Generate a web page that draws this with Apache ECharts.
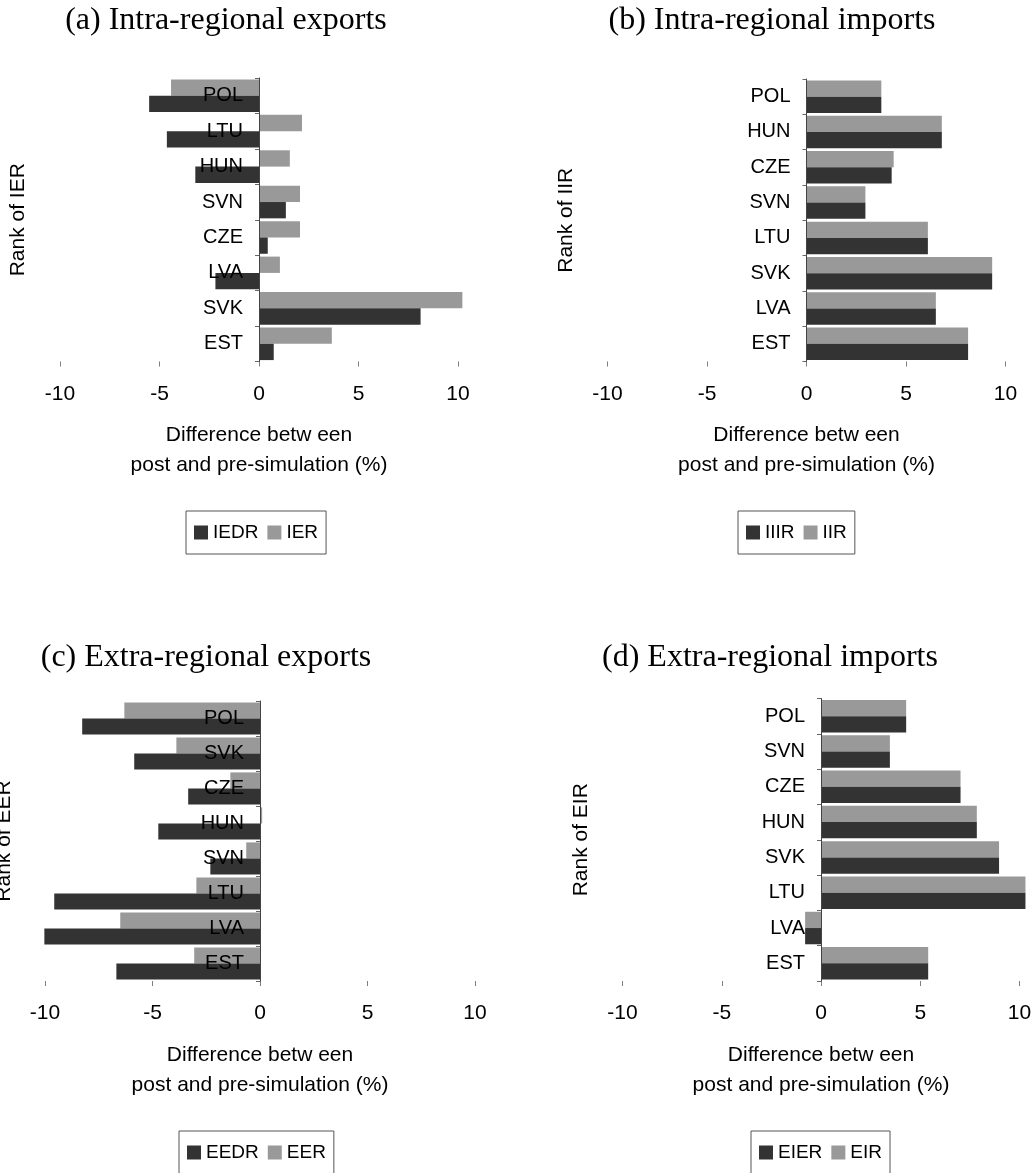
<!DOCTYPE html>
<html>
<head>
<meta charset="utf-8">
<script src="https://cdn.jsdelivr.net/npm/echarts@6/dist/echarts.min.js"></script>
<style>
  html, body { margin: 0; padding: 0; background: #fff; }
  #chart { width: 1032px; height: 1173px; }
</style>
</head>
<body>
<div id="chart"></div>
<script>
// Shared value-axis ticks (percent difference)
const xTicks = [-10, -5, 0, 5, 10];

// (a) Intra-regional exports — categories listed bottom to top
const catsA = ['EST', 'SVK', 'LVA', 'CZE', 'SVN', 'HUN', 'LTU', 'POL'];
const iedrA = [0.74, 8.12, -2.19, 0.44, 1.35, -3.2, -4.63, -5.52];
const ierA  = [3.66, 10.22, 1.05, 2.06, 2.06, 1.55, 2.16, -4.42];

// (b) Intra-regional imports
const catsB = ['EST', 'LVA', 'SVK', 'LTU', 'SVN', 'CZE', 'HUN', 'POL'];
const iiirB = [8.12, 6.5, 9.33, 6.1, 2.96, 4.28, 6.8, 3.76];
const iirB  = [8.12, 6.5, 9.33, 6.1, 2.96, 4.38, 6.8, 3.76];

// (c) Extra-regional exports
const catsC = ['EST', 'LVA', 'LTU', 'SVN', 'HUN', 'CZE', 'SVK', 'POL'];
const eedrC = [-6.68, -10.03, -9.57, -2.31, -4.73, -3.34, -5.85, -8.27];
const eerC  = [-3.06, -6.5, -2.96, -0.64, 0.1, -1.38, -3.89, -6.31];

// (d) Extra-regional imports
const catsD = ['EST', 'LVA', 'LTU', 'SVK', 'HUN', 'CZE', 'SVN', 'POL'];
const eierD = [5.4, -0.8, 10.3, 8.97, 7.85, 7.03, 3.47, 4.29];
const eirD  = [5.4, -0.8, 10.3, 8.97, 7.85, 7.03, 3.47, 4.29];

const SANS = "'Liberation Sans', Arial, sans-serif";
const SERIF = "'Liberation Serif', 'Times New Roman', serif";
const DARK = '#333333';
const LIGHT = '#999999';

const panels = [
  { title: '(a) Intra-regional exports', titleX: 221, titleY: 0,
    grid: { left: 60, top: 78, width: 398, height: 283.5 },
    yName: 'Rank of IER', yGap: 230,
    cats: catsA, dark: ['IEDR', iedrA], light: ['IER', ierA],
    legend: { left: 186, top: 511 } },
  { title: '(b) Intra-regional imports', titleX: 767, titleY: 0,
    grid: { left: 607.5, top: 79, width: 398, height: 282.5 },
    yName: 'Rank of IIR', yGap: 230,
    cats: catsB, dark: ['IIIR', iiirB], light: ['IIR', iirB],
    legend: { left: 738, top: 511 } },
  { title: '(c) Extra-regional exports', titleX: 201, titleY: 637,
    grid: { left: 45, top: 701, width: 430, height: 280 },
    yName: 'Rank of EER', yGap: 245,
    cats: catsC, dark: ['EEDR', eedrC], light: ['EER', eerC],
    legend: { left: 179, top: 1131 } },
  { title: '(d) Extra-regional imports', titleX: 765, titleY: 637,
    grid: { left: 622.5, top: 698.5, width: 397, height: 282.5 },
    yName: 'Rank of EIR', yGap: 229,
    cats: catsD, dark: ['EIER', eierD], light: ['EIR', eirD],
    legend: { left: 751, top: 1131 } }
];

const option = {
  backgroundColor: '#ffffff',
  animation: false,
  title: [], grid: [], xAxis: [], yAxis: [], legend: [], series: []
};

panels.forEach((p, i) => {
  option.title.push({
    text: p.title, left: p.titleX, top: p.titleY, textAlign: 'center',
    textStyle: { fontFamily: SERIF, fontSize: 32, fontWeight: 'normal', color: '#000' }
  });
  option.grid.push(Object.assign({ outerBoundsMode: 'none', containLabel: false }, p.grid));
  option.xAxis.push({
    type: 'value', gridIndex: i,
    min: xTicks[0], max: xTicks[xTicks.length - 1], interval: xTicks[1] - xTicks[0],
    axisLine: { onZero: false, lineStyle: { color: '#808080', width: 1 } },
    axisTick: { show: true, length: 5, lineStyle: { color: '#808080' } },
    axisLabel: { margin: 22, fontFamily: SANS, fontSize: 21, color: '#000' },
    splitLine: { show: false },
    name: 'Difference betw een\npost and pre-simulation (%)',
    nameLocation: 'middle', nameGap: 59, nameMoveOverlap: false,
    nameTextStyle: { fontFamily: SANS, fontSize: 21, color: '#000', lineHeight: 30 }
  });
  // the category axis sits on the zero line: shift it right by half the plot width
  const zeroShift = p.grid.width * (0 - xTicks[0]) / (xTicks[xTicks.length - 1] - xTicks[0]);
  option.yAxis.push({
    type: 'category', gridIndex: i, data: p.cats, z: 5,
    position: 'left', offset: -zeroShift,
    axisLine: { onZero: false, lineStyle: { color: '#444', width: 1 } },
    axisTick: { show: true, length: 4, lineStyle: { color: '#666' } },
    axisLabel: { margin: 16, fontFamily: SANS, fontSize: 20, color: '#000' },
    splitLine: { show: false },
    name: p.yName, nameLocation: 'middle', nameRotate: 90, nameGap: p.yGap,
    nameMoveOverlap: false,
    nameTextStyle: { fontFamily: SANS, fontSize: 21, color: '#000' }
  });
  option.legend.push({
    left: p.legend.left, top: p.legend.top,
    data: [p.dark[0], p.light[0]],
    orient: 'horizontal', icon: 'rect',
    itemWidth: 14, itemHeight: 14, itemGap: 9,
    padding: [12, 8, 12, 8],
    borderColor: '#555', borderWidth: 1, borderRadius: 0,
    textStyle: { fontFamily: SANS, fontSize: 19, color: '#000' }
  });
  // lighter series first so it sits on top within each category band
  option.series.push({
    name: p.light[0], type: 'bar', xAxisIndex: i, yAxisIndex: i,
    data: p.light[1], itemStyle: { color: LIGHT },
    barCategoryGap: '8%', barGap: '0%', clip: false
  });
  option.series.push({
    name: p.dark[0], type: 'bar', xAxisIndex: i, yAxisIndex: i,
    data: p.dark[1], itemStyle: { color: DARK },
    barCategoryGap: '8%', barGap: '0%', clip: false
  });
});

const chart = echarts.init(document.getElementById('chart'), null, { renderer: 'canvas' });
chart.setOption(option);
</script>
</body>
</html>
